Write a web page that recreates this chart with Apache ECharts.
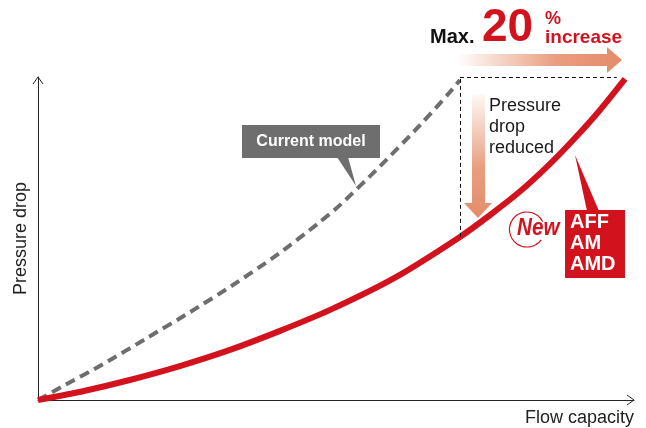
<!DOCTYPE html>
<html>
<head>
<meta charset="utf-8">
<script src="https://cdn.jsdelivr.net/npm/echarts@6/dist/echarts.min.js"></script>
<style>
  html, body { margin: 0; padding: 0; background: #fff; }
  #chart { width: 646px; height: 428px; }
</style>
</head>
<body>
<div id="chart"></div>
<script>
// values (x: flow capacity, y: pressure drop, both 0..100)
const currentX = [0, 4.2, 10.9, 18.3, 25.5, 32.7, 40.1, 47.3, 50.7, 57.4, 64.1, 69.1, 70.8]
const currentY = [0, 4.3, 11.1, 19.2, 27.2, 35.6, 44.9, 55.1, 60.4, 72.4, 85.1, 95.3, 99.1]
const newX = [0, 7.7, 15.4, 23.8, 32.2, 40.6, 49.0, 59.9, 70.8, 75.8, 80.9, 85.9, 90.1, 94.3, 98.5]
const newY = [0, 2.8, 6.2, 10.5, 15.5, 21.4, 27.9, 37.9, 50.5, 57.2, 64.6, 73.1, 81.1, 89.8, 99.4]
const boxX = [70.8, 97.1]
const boxY = [50.5, 100]

const RED = '#d2131e'
const GREY = '#6e6e6e'
const SALMON = 'rgba(229,140,105,1)'
const FONT = '"Liberation Sans", Arial, sans-serif'

const chart = echarts.init(document.getElementById('chart'))

const axisCommon = {
  type: 'value',
  min: 0,
  max: 100,
  splitLine: { show: false },
  axisTick: { show: false },
  axisLabel: { show: false },
  axisLine: { show: true, onZero: false, lineStyle: { color: '#222', width: 1 } },
}

// text placed by its baseline (Arial cap centre sits ~0.355em above it)
function label(x, base, text, size, weight, fill) {
  return {
    type: 'text', x, y: base - 0.355 * size,
    style: { text, font: `${weight} ${size}px ${FONT}`, fill, textVerticalAlign: 'middle' },
  }
}

chart.setOption({
  animation: false,
  grid: { left: 38, right: 12, top: 77, bottom: 28 },
  xAxis: {
    ...axisCommon,
    name: 'Flow capacity',
    nameLocation: 'end',
    nameGap: 0,
    nameTextStyle: {
      fontFamily: FONT, fontSize: 18, color: '#222',
      align: 'right', verticalAlign: 'top', padding: [9, 0, 0, 0],
    },
  },
  yAxis: {
    ...axisCommon,
    name: 'Pressure drop',
    nameLocation: 'middle',
    nameGap: 8,
    nameTextStyle: { fontFamily: FONT, fontSize: 18, color: '#222' },
  },
  series: [
    {
      name: 'Current model',
      type: 'line',
      data: currentX.map((x, i) => [x, currentY[i]]),
      smooth: 0.25,
      symbol: 'none',
      clip: false,
      lineStyle: { color: GREY, width: 4, type: [10, 6], cap: 'butt' },
      markLine: {
        silent: true,
        symbol: 'none',
        label: { show: false },
        lineStyle: { color: '#111', width: 1, type: [4, 3] },
        data: [
          [{ coord: [boxX[0], boxY[0]] }, { coord: [boxX[0], boxY[1]] }],
          [{ coord: [boxX[0], boxY[1]] }, { coord: [boxX[1], boxY[1]] }],
        ],
      },
    },
    {
      name: 'AFF AM AMD',
      type: 'line',
      data: newX.map((x, i) => [x, newY[i]]),
      smooth: 0.25,
      symbol: 'none',
      clip: false,
      lineStyle: { color: RED, width: 6 },
    },
  ],
  graphic: [
    // axis arrow heads
    { type: 'polyline', shape: { points: [[627, 395], [634, 400], [627, 405]] }, style: { stroke: '#222', lineWidth: 1, fill: null } },
    { type: 'polyline', shape: { points: [[33, 84], [38, 77], [43, 84]] }, style: { stroke: '#222', lineWidth: 1, fill: null } },

    // horizontal gradient arrow
    {
      type: 'polygon',
      shape: { points: [[457, 54], [607, 54], [607, 47], [622, 60], [607, 73], [607, 66], [457, 66]] },
      style: {
        fill: new echarts.graphic.LinearGradient(0, 0, 1, 0, [
          { offset: 0, color: 'rgba(229,140,105,0)' },
          { offset: 0.6, color: 'rgba(229,140,105,0.85)' },
          { offset: 1, color: SALMON },
        ]),
      },
    },
    // vertical gradient arrow
    {
      type: 'polygon',
      shape: { points: [[472, 94], [485, 94], [485, 203], [492, 203], [478, 218], [464, 203], [472, 203]] },
      style: {
        fill: new echarts.graphic.LinearGradient(0, 0, 0, 1, [
          { offset: 0, color: 'rgba(229,140,105,0.05)' },
          { offset: 0.6, color: 'rgba(229,140,105,0.85)' },
          { offset: 1, color: SALMON },
        ]),
      },
    },

    // headline
    label(430, 45, 'Max.', 20, 'bold', '#111'),
    label(482, 45, '20', 46, 'bold', RED),
    label(545, 25, '%', 18, 'bold', RED),
    label(545, 45, 'increase', 19, 'bold', RED),

    // pressure drop reduced
    {
      type: 'text', x: 489, y: 96,
      style: { text: 'Pressure\ndrop\nreduced', font: '18px ' + FONT, fill: '#1a1a1a', lineHeight: 21 },
    },

    // current model callout
    { type: 'rect', shape: { x: 242, y: 125, width: 138, height: 33 }, style: { fill: GREY } },
    { type: 'polygon', shape: { points: [[337, 157], [348, 157], [356, 186]] }, style: { fill: GREY } },
    {
      type: 'text', x: 311, y: 142,
      style: { text: 'Current model', font: 'bold 16px ' + FONT, fill: '#fff', textAlign: 'center', textVerticalAlign: 'middle' },
    },

    // new model callout
    { type: 'polygon', shape: { points: [[575, 155], [587, 211], [599, 211]] }, style: { fill: RED } },
    { type: 'rect', shape: { x: 565, y: 210, width: 60, height: 68 }, style: { fill: RED } },
    {
      type: 'text', x: 570, y: 212,
      style: { text: 'AFF\nAM\nAMD', font: 'bold 20px ' + FONT, fill: '#fff', lineHeight: 21 },
    },
    {
      type: 'arc',
      shape: { cx: 527, cy: 229.5, r: 17.5, startAngle: Math.PI * 0.2, endAngle: Math.PI * 1.85, clockwise: true },
      style: { stroke: RED, lineWidth: 1.2, fill: null },
    },
    {
      type: 'text', x: 517, y: 237 - 0.355 * 24, scaleX: 0.86,
      style: {
        text: 'New', font: `italic bold 24px ${FONT}`, fill: RED, textVerticalAlign: 'middle',
        stroke: '#fff', lineWidth: 2,
      },
    },
  ],
})
</script>
</body>
</html>
